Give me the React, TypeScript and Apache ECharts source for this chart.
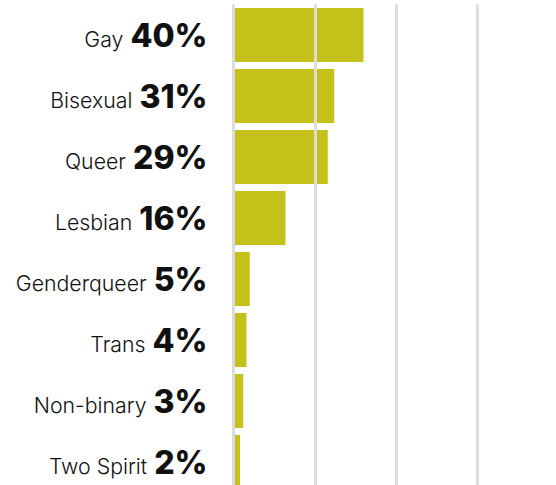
import React, { useEffect, useRef } from "react";
import * as echarts from "echarts";

const categories = ["Gay", "Bisexual", "Queer", "Lesbian", "Genderqueer", "Trans", "Non-binary", "Two Spirit"];
const values = [40, 31, 29, 16, 5, 4, 3, 2];
const xTicks = [0, 25, 50, 75, 100];

export default function App() {
  const ref = useRef<HTMLDivElement>(null);
  useEffect(() => {
    if (!ref.current) return;
    const chart = echarts.init(ref.current, undefined, { renderer: "svg" });
    chart.setOption({
      animation: false,
      grid: {
        left: 233.5,
        width: 325,
        top: 4.5,
        height: 488,
        containLabel: false,
        outerBoundsMode: "none",
      },
      xAxis: {
        type: "value",
        min: xTicks[0],
        max: xTicks[xTicks.length - 1],
        interval: 25,
        axisLabel: { show: false },
        axisLine: { show: false },
        axisTick: { show: false },
        splitLine: { show: true, lineStyle: { color: "#dcdcdc", width: 3 } },
      },
      yAxis: {
        type: "category",
        inverse: true,
        data: categories,
        axisLine: { show: false },
        axisTick: { show: false },
        axisLabel: {
          margin: 26,
          align: "right",
          formatter: (name: string, idx: number) => `{n|${name}}{p|${values[idx]}%}`,
          rich: {
            n: {
              fontFamily: "Inter",
              fontWeight: 300,
              fontSize: 21.3,
              color: "#111",
              verticalAlign: "bottom",
              padding: [0, 7, 2, 0],
            },
            p: {
              fontFamily: "Inter",
              fontWeight: 800,
              fontSize: 32,
              color: "#111",
              verticalAlign: "bottom",
            },
          },
        },
      },
      series: [
        {
          type: "bar",
          data: values,
          z: -1,
          barCategoryGap: "11.5%",
          itemStyle: { color: "#c4c11b" },
        },
      ],
    });
    return () => chart.dispose();
  }, []);
  return <div ref={ref} style={{ width: 556, height: 485, position: "absolute", left: 0, top: 0 }} />;
}
